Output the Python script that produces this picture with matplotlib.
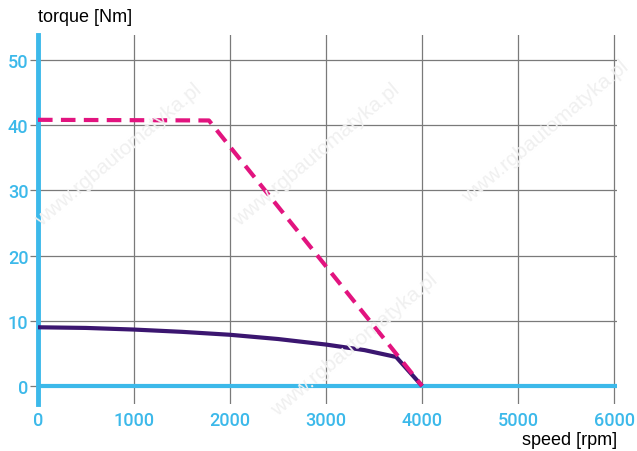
import numpy as np
import matplotlib.pyplot as plt

# speed [rpm] / torque [Nm]
peak_speed = [0, 1780, 4000]
peak_torque = [40.8, 40.7, 0]

cont_speed = [0, 500, 1000, 1500, 2000, 2500, 3000, 3400, 3730, 4000]
cont_torque = [9.0, 8.9, 8.65, 8.3, 7.85, 7.2, 6.35, 5.5, 4.45, 0]

xticks = [0, 1000, 2000, 3000, 4000, 5000, 6000]
yticks = [0, 10, 20, 30, 40, 50]

blue = '#3cb9ea'
magenta = '#e2147f'
purple = '#3b1670'
grey = '#7a7a7a'

fig = plt.figure(figsize=(6.37, 4.52), dpi=100)
ax = fig.add_axes([38/637, 47/452, 579/637, 369/452])
ax.set_xlim(0, 6030)
ax.set_ylim(-2.76, 53.8)

# faint watermark
for (wx, wy) in [(0.05, 0.5), (0.36, 0.5), (0.42, 0.08), (0.72, 0.55)]:
    fig.text(wx, wy, 'www.rgbautomatyka.pl', rotation=40, fontsize=15, color='#f0f0f0',
             family='Liberation Sans', zorder=0)

ax.patch.set_alpha(0)
ax.set_xticks(xticks)
ax.set_yticks(yticks)
ax.grid(True, color=grey, lw=0.9)
ax.set_axisbelow(True)

for s in ['top', 'right', 'bottom']:
    ax.spines[s].set_visible(False)
ax.spines['left'].set_color(blue)
ax.spines['left'].set_linewidth(3.5)
ax.axhline(0, color=blue, lw=3, zorder=2)

ax.tick_params(axis='y', length=6, width=0.9, color=grey, pad=1, labelcolor=blue, labelsize=13)
ax.tick_params(axis='x', length=0, pad=5, labelcolor=blue, labelsize=13)
for lab in ax.get_xticklabels() + ax.get_yticklabels():
    lab.set_family('Roboto')
    lab.set_weight('medium')

ax.plot(cont_speed, cont_torque, color=purple, lw=3, zorder=3, solid_capstyle='butt')
ax.plot(peak_speed, peak_torque, color=magenta, lw=3, ls=(0, (3.5, 2)), zorder=4)

fig.text(38/637, 1 - 18/452, 'torque [Nm]', fontsize=13, family='Liberation Sans',
         va='center', ha='left')
fig.text(617/637, 1 - 441/452, 'speed [rpm]', fontsize=13, family='Liberation Sans',
         va='center', ha='right')

fig.savefig('out.png', dpi=100)
